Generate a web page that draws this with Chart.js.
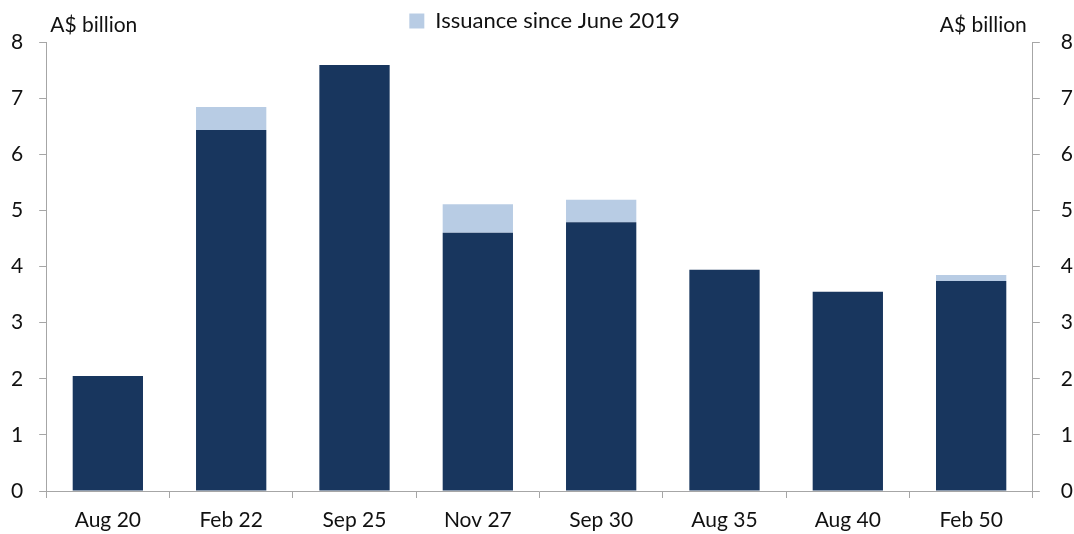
<!DOCTYPE html>
<html>
<head>
<meta charset="utf-8">
<script src="https://cdn.jsdelivr.net/npm/chart.js@4.4.0/dist/chart.umd.min.js"></script>
<style>
  html, body { margin: 0; padding: 0; background: #fff; }
  #wrap { width: 1074px; height: 534px; }
</style>
</head>
<body>
<div id="wrap"><canvas id="bonds"></canvas></div>
<script>
// bond lines and amounts outstanding (A$ billion)
const bondLines = ["Aug 20", "Feb 22", "Sep 25", "Nov 27", "Sep 30", "Aug 35", "Aug 40", "Feb 50"];
const beforeJune2019 = [2.05, 6.43, 7.59, 4.60, 4.79, 3.94, 3.55, 3.74];
const sinceJune2019 = [0, 0.41, 0, 0.51, 0.40, 0, 0, 0.11];
const yTicks = [0, 1, 2, 3, 4, 5, 6, 7, 8];

const FONT = "Lato, 'Open Sans', sans-serif";
const axisGrey = "#a6a6a6";

// "A$ billion" labels above each axis
const unitLabels = {
  id: "unitLabels",
  afterDraw(chart) {
    const c = chart.ctx, a = chart.chartArea;
    c.save();
    c.font = "21px " + FONT;
    c.fillStyle = "#111";
    c.textBaseline = "middle";
    c.textAlign = "left";
    c.fillText("A$ billion", a.left + 4, 25);
    c.textAlign = "right";
    c.fillText("A$ billion", a.right - 6, 25);
    c.restore();
  }
};

new Chart(document.getElementById("bonds"), {
  type: "bar",
  data: {
    labels: bondLines,
    datasets: [
      {
        label: "Outstanding before June 2019",
        data: beforeJune2019,
        backgroundColor: "#18365e",
        barPercentage: 0.57,
        categoryPercentage: 1
      },
      {
        label: "Issuance since June 2019",
        data: sinceJune2019,
        backgroundColor: "#b8cce4",
        barPercentage: 0.57,
        categoryPercentage: 1
      }
    ]
  },
  options: {
    responsive: true,
    maintainAspectRatio: false,
    animation: false,
    layout: { padding: { left: -5, right: -20, top: 6, bottom: -9 } },
    plugins: {
      legend: {
        display: true,
        position: "top",
        labels: {
          filter: item => item.datasetIndex === 1,
          boxWidth: 15,
          boxHeight: 15,
          color: "#111",
          font: { family: FONT, size: 22 },
          padding: 4
        }
      },
      tooltip: { enabled: false }
    },
    scales: {
      x: {
        stacked: true,
        grid: { offset: true, drawOnChartArea: false, color: axisGrey, tickLength: 7 },
        border: { color: axisGrey },
        ticks: { color: "#111", font: { family: FONT, size: 21, lineHeight: 1 }, padding: 12 }
      },
      y: {
        stacked: true,
        position: "left",
        min: 0,
        max: 8,
        afterBuildTicks: s => { s.ticks = yTicks.map(v => ({ value: v })); },
        grid: { drawOnChartArea: false, color: axisGrey, tickLength: 7 },
        border: { color: axisGrey },
        ticks: { color: "#111", font: { family: FONT, size: 21 }, padding: 16 }
      },
      y2: {
        position: "right",
        min: 0,
        max: 8,
        afterBuildTicks: s => { s.ticks = yTicks.map(v => ({ value: v })); },
        grid: { drawOnChartArea: false, color: axisGrey, tickLength: 7 },
        border: { color: axisGrey },
        ticks: { color: "#111", font: { family: FONT, size: 21 }, padding: 21 }
      }
    }
  },
  plugins: [unitLabels]
});
</script>
</body>
</html>
